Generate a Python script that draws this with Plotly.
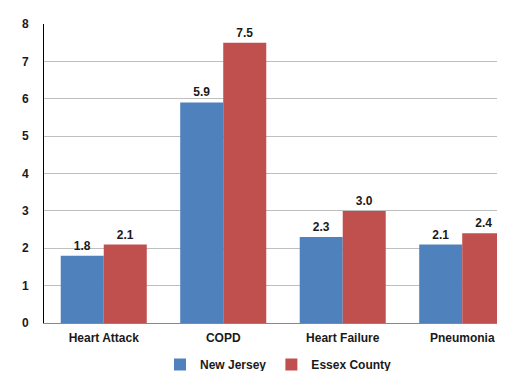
import plotly.graph_objects as go

categories = ["Heart Attack", "COPD", "Heart Failure", "Pneumonia"]
new_jersey = [1.8, 5.9, 2.3, 2.1]
essex_county = [2.1, 7.5, 3.0, 2.4]

font_bold = "Liberation Sans"

fig = go.Figure()
fig.add_trace(go.Bar(x=categories, y=new_jersey, name="New Jersey",
                     marker=dict(color="#4F81BD", line=dict(width=0)),
                     text=[f"{v:.1f}" for v in new_jersey], textposition="outside",
                     textfont=dict(size=12, color="#1a1a1a", family=font_bold),
                     cliponaxis=False))
fig.add_trace(go.Bar(x=categories, y=essex_county, name="Essex County",
                     marker=dict(color="#C0504D", line=dict(width=0)),
                     text=[f"{v:.1f}" for v in essex_county], textposition="outside",
                     textfont=dict(size=12, color="#1a1a1a", family=font_bold),
                     cliponaxis=False))

fig.update_layout(
    width=505, height=371,
    margin=dict(l=36, r=0, t=16, b=50),
    paper_bgcolor="white", plot_bgcolor="white",
    barmode="group", bargap=0.28, bargroupgap=0,
    font=dict(family=font_bold, size=12, color="#1a1a1a"),
    legend=dict(orientation="h", x=0.5, xanchor="center", y=-0.14, yanchor="middle",
                font=dict(size=12), itemwidth=30, tracegroupgap=0),
    xaxis=dict(range=[-0.5, 3.425], showline=True, linecolor="#888888", linewidth=1,
               ticks="", tickfont=dict(size=12), showgrid=False, ticklabelstandoff=4),
    yaxis=dict(range=[0, 8], dtick=1, showline=True, linecolor="black", linewidth=1,
               gridcolor="#BFBFBF", gridwidth=1, ticks="", ticklabelstandoff=12,
               tickfont=dict(size=12), zeroline=False),
)
for ax in (fig.layout.xaxis, fig.layout.yaxis):
    ax.tickfont.weight = "bold"
fig.update_traces(textfont_weight="bold", textangle=0)
fig.update_layout(legend_font_weight="bold")

fig.write_html("out.html")
